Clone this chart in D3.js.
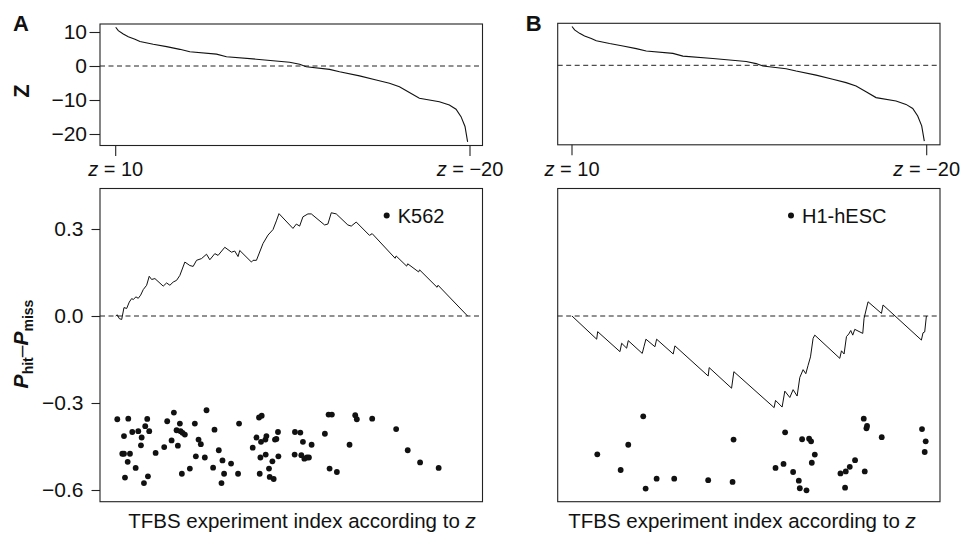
<!DOCTYPE html>
<html>
<head>
<meta charset="utf-8">
<script src="https://cdn.jsdelivr.net/npm/d3@7"></script>
<style>
  html, body { margin: 0; padding: 0; background: #fff; }
  svg { display: block; font-family: "Liberation Sans", Arial, sans-serif; }
</style>
</head>
<body>
<svg id="chart" width="963" height="533"></svg>
<script>
// ---------------- DATA ----------------
// index of TFBS experiment (ordered by z), 0..355
const indexDomain = [0, 355];

// sorted z scores (top panels, same ordering for both cell lines)
const zIndex  = [0, 2.6, 7.6, 12.6, 19.3, 24.3, 37.6, 51, 64.3, 74.3, 101, 111, 141, 174.3, 184.3, 191, 214.3, 224.3, 244.3, 261, 274.3, 284.3, 294.3, 304.3, 324.3, 334.3, 341, 346, 350, 352.6];
const zValues = [11.4, 10.4, 9.4, 8.6, 7.9, 7.2, 6.4, 5.7, 4.9, 4.2, 3.5, 2.7, 2.0, 1.1, 0.5, -0.2, -1.0, -1.7, -2.9, -4.1, -5.1, -6.1, -7.8, -9.5, -10.5, -11.5, -12.7, -14.9, -17.8, -22.3];

const zTicks = [10, 0, -10, -20];
const zTickLabels = ["10", "0", "\u221210", "\u221220"];
const zEndLabels = ["10", "\u221220"];

// running sum P_hit - P_miss, K562
const k562Index = [0, 1.6, 3.6, 6.0, 8.3, 11.0, 13.6, 16.0, 17.6, 20.3, 22.6, 25.0, 27.6, 31.0, 33.6, 36.0, 39.3, 47.6, 51.0, 54.3, 57.6, 61.0, 64.3, 69.3, 74.3, 77.6, 81.0, 86.0, 91.0, 94.3, 99.3, 102.6, 109.3, 116.0, 119.3, 122.6, 124.3, 136.0, 137.6, 141.0, 147.6, 152.6, 157.6, 161.0, 163.6, 177.6, 181.0, 184.3, 187.6, 192.6, 196.0, 209.3, 212.6, 216.0, 221.0, 232.6, 236.0, 241.0, 254.3, 257.0, 280.0, 281.0, 291.5, 292.6, 303.5, 304.5, 322.0, 323.0, 352.6];
const k562Values = [0.000, 0.004, -0.009, -0.012, 0.029, 0.026, 0.048, 0.060, 0.057, 0.066, 0.061, 0.072, 0.091, 0.106, 0.137, 0.126, 0.129, 0.103, 0.114, 0.106, 0.117, 0.123, 0.140, 0.186, 0.174, 0.171, 0.192, 0.198, 0.213, 0.194, 0.215, 0.209, 0.237, 0.220, 0.224, 0.205, 0.226, 0.186, 0.192, 0.192, 0.250, 0.279, 0.298, 0.328, 0.353, 0.302, 0.317, 0.310, 0.342, 0.352, 0.352, 0.314, 0.317, 0.356, 0.352, 0.314, 0.310, 0.324, 0.278, 0.284, 0.199, 0.207, 0.172, 0.180, 0.152, 0.159, 0.099, 0.106, 0.000];

// running sum P_hit - P_miss, H1-hESC
const h1Index = [0, 24.7, 25.7, 48, 49.7, 54.7, 56.3, 70.3, 72, 74, 83, 84.7, 101.3, 103, 136.3, 137.3, 159.7, 162, 202.3, 203.7, 210.3, 213, 218, 221.3, 225.3, 228, 231.3, 234, 236.3, 238.7, 241.3, 243, 268, 269.7, 272.3, 274.7, 277, 279, 281, 283, 291, 292.3, 296.3, 309.7, 311.3, 349.7, 351.3, 353, 354.7];
const h1Values = [0, -0.080, -0.054, -0.123, -0.094, -0.111, -0.085, -0.129, -0.106, -0.080, -0.106, -0.080, -0.131, -0.103, -0.207, -0.178, -0.249, -0.192, -0.316, -0.291, -0.314, -0.259, -0.281, -0.254, -0.276, -0.212, -0.185, -0.199, -0.170, -0.141, -0.077, -0.066, -0.146, -0.120, -0.131, -0.071, -0.062, -0.050, -0.066, -0.046, -0.060, -0.008, 0.049, 0.009, 0.038, -0.083, -0.058, -0.055, 0.000];

// hit experiments (dots), K562
const k562HitIndex = [1.6, 12.6, 8.3, 6.6, 8.3, 12.0, 9.3, 16.6, 20.0, 14.3, 22.6, 26.0, 25.3, 29.6, 31.6, 33.6, 32.3, 28.3, 40.0, 51.6, 48.6, 56.0, 58.3, 61.0, 62.3, 64.3, 65.0, 67.0, 69.3, 66.3, 74.3, 79.3, 80.3, 83.0, 85.3, 89.3, 91.0, 99.0, 97.6, 103.3, 107.0, 108.6, 106.0, 115.6, 122.6, 123.6, 137.3, 141.0, 143.6, 144.3, 145.0, 146.3, 145.6, 150.0, 150.3, 151.0, 153.6, 154.3, 157.0, 158.3, 159.6, 161.0, 162.6, 163.0, 179.6, 185.0, 179.3, 186.0, 187.6, 189.0, 191.6, 193.6, 196.3, 209.6, 213.3, 216.6, 214.3, 221.6, 234.3, 240.0, 241.6, 257.0, 281.0, 292.6, 305.0, 323.6];
const k562HitValues = [-0.356, -0.354, -0.414, -0.475, -0.475, -0.503, -0.557, -0.400, -0.524, -0.475, -0.397, -0.419, -0.446, -0.380, -0.355, -0.397, -0.553, -0.576, -0.472, -0.363, -0.452, -0.429, -0.333, -0.394, -0.447, -0.371, -0.397, -0.403, -0.409, -0.544, -0.526, -0.371, -0.484, -0.426, -0.442, -0.488, -0.325, -0.392, -0.523, -0.463, -0.498, -0.544, -0.576, -0.509, -0.544, -0.371, -0.454, -0.419, -0.350, -0.544, -0.488, -0.344, -0.434, -0.426, -0.478, -0.414, -0.526, -0.555, -0.501, -0.562, -0.426, -0.424, -0.400, -0.484, -0.400, -0.402, -0.478, -0.480, -0.434, -0.492, -0.488, -0.488, -0.444, -0.406, -0.340, -0.340, -0.526, -0.538, -0.444, -0.342, -0.356, -0.354, -0.390, -0.463, -0.505, -0.524];

// hit experiments (dots), H1-hESC
const h1HitIndex = [25.3, 48.7, 56.3, 71.3, 73.7, 84.7, 102.3, 136.3, 160.7, 161.7, 203.7, 211.7, 213.3, 221.3, 227, 228, 230.3, 234.7, 237.3, 239.3, 240, 243, 268.7, 273.3, 274, 278, 283.3, 292, 293, 294.7, 295.3, 310, 350.3, 353, 354];
const h1HitValues = [-0.477, -0.531, -0.444, -0.346, -0.595, -0.561, -0.561, -0.566, -0.572, -0.426, -0.524, -0.510, -0.401, -0.538, -0.568, -0.594, -0.425, -0.601, -0.423, -0.432, -0.506, -0.478, -0.543, -0.592, -0.536, -0.520, -0.497, -0.354, -0.536, -0.387, -0.379, -0.418, -0.390, -0.469, -0.432];

const esTicks = [0.3, 0.0, -0.3, -0.6];
const esTickLabels = ["0.3", "0.0", "\u22120.3", "\u22120.6"];

const cellLines = ["K562", "H1-hESC"];
const panelLetters = ["A", "B"];
const xTitle = "TFBS experiment index according to ";

// ---------------- DRAW ----------------
const svg = d3.select("#chart");
const FONT = 20;
const TICKFONT = 21;
const ink = "#111";

const panels = [
  { letter: panelLetters[0], legend: cellLines[0], xr: [115.7, 470], box: [100, 482.5],
    lineI: k562Index, lineV: k562Values, hitI: k562HitIndex, hitV: k562HitValues,
    topShift: 0, axes: true, legendX: 386.7, titleX: 302 },
  { letter: panelLetters[1], legend: cellLines[1], xr: [572, 926.7], box: [557.7, 940],
    lineI: h1Index, lineV: h1Values, hitI: h1HitIndex, hitV: h1HitValues,
    topShift: -0.7, axes: false, legendX: 791, titleX: 742 }
];

const topBox = [24, 145.5];
const botBox = [188.5, 501.7];

panels.forEach(p => {
  const g = svg.append("g");
  const x = d3.scaleLinear().domain(indexDomain).range(p.xr);
  const yZ = d3.scaleLinear().domain([-20, 10]).range([134 + p.topShift, 32 + p.topShift]);
  const yE = d3.scaleLinear().domain([-0.6, 0.3]).range([490, 229]);

  // ---- top panel ----
  const tb = [topBox[0] + p.topShift, topBox[1] + p.topShift];
  g.append("rect").attr("x", p.box[0]).attr("y", tb[0])
    .attr("width", p.box[1] - p.box[0]).attr("height", tb[1] - tb[0])
    .attr("fill", "none").attr("stroke", "#222").attr("stroke-width", 1.1);
  g.append("line").attr("x1", p.box[0]).attr("x2", p.box[1])
    .attr("y1", yZ(0)).attr("y2", yZ(0))
    .attr("stroke", "#222").attr("stroke-dasharray", "5,3.5");
  const zData = zIndex.map((d, i) => [d, zValues[i]]);
  g.append("path").datum(zData)
    .attr("d", d3.line().x(d => x(d[0])).y(d => yZ(d[1])))
    .attr("fill", "none").attr("stroke", ink).attr("stroke-width", 1.1);

  // x end ticks of top panel
  const ends = [indexDomain[0], indexDomain[1]];
  ends.forEach((e, i) => {
    g.append("line").attr("x1", x(e)).attr("x2", x(e))
      .attr("y1", tb[1]).attr("y2", tb[1] + 10.5)
      .attr("stroke", "#222").attr("stroke-width", 1.1);
    const t = g.append("text").attr("x", x(e)).attr("y", 175.5)
      .attr("text-anchor", "middle").attr("font-size", FONT).attr("fill", ink);
    t.append("tspan").attr("font-style", "italic").text("z");
    t.append("tspan").text(" = " + zEndLabels[i]);
  });

  if (p.axes) {
    const ax = d3.axisLeft(yZ).tickValues(zTicks).tickSize(10.5).tickPadding(2.5)
      .tickFormat((d, i) => zTickLabels[i]);
    const ag = g.append("g").attr("transform", `translate(${p.box[0]},0)`).call(ax);
    ag.select(".domain").remove();
    ag.selectAll("line").attr("stroke", "#222").attr("stroke-width", 1.1);
    ag.selectAll("text").attr("font-size", TICKFONT).attr("fill", ink)
      .attr("font-family", '"Liberation Sans", Arial, sans-serif');
  }

  // panel letter
  g.append("text").attr("x", p.box[0] - (p.axes ? 87 : 32)).attr("y", 30.5)
    .attr("font-size", 22).attr("font-weight", "bold").attr("fill", ink).text(p.letter);

  // ---- bottom panel ----
  g.append("rect").attr("x", p.box[0]).attr("y", botBox[0])
    .attr("width", p.box[1] - p.box[0]).attr("height", botBox[1] - botBox[0])
    .attr("fill", "none").attr("stroke", "#222").attr("stroke-width", 1.1);
  g.append("line").attr("x1", p.box[0]).attr("x2", p.box[1])
    .attr("y1", yE(0)).attr("y2", yE(0))
    .attr("stroke", "#222").attr("stroke-dasharray", "5,3.5");
  const lData = p.lineI.map((d, i) => [d, p.lineV[i]]);
  g.append("path").datum(lData)
    .attr("d", d3.line().x(d => x(d[0])).y(d => yE(d[1])))
    .attr("fill", "none").attr("stroke", ink).attr("stroke-width", 1);
  const hData = p.hitI.map((d, i) => [d, p.hitV[i]]);
  g.selectAll("circle.hit").data(hData).enter().append("circle")
    .attr("class", "hit").attr("cx", d => x(d[0])).attr("cy", d => yE(d[1]))
    .attr("r", 2.9).attr("fill", ink);

  if (p.axes) {
    const ax = d3.axisLeft(yE).tickValues(esTicks).tickSize(8.5).tickPadding(8)
      .tickFormat((d, i) => esTickLabels[i]);
    const ag = g.append("g").attr("transform", `translate(${p.box[0]},0)`).call(ax);
    ag.select(".domain").remove();
    ag.selectAll("line").attr("stroke", "#222").attr("stroke-width", 1.1);
    ag.selectAll("text").attr("font-size", TICKFONT).attr("fill", ink)
      .attr("font-family", '"Liberation Sans", Arial, sans-serif');
  }

  // legend
  g.append("circle").attr("cx", p.legendX).attr("cy", 215.5).attr("r", 3).attr("fill", ink);
  g.append("text").attr("x", p.legendX + 11).attr("y", 222.5)
    .attr("font-size", FONT).attr("fill", ink).text(p.legend);

  // x title
  const xt = g.append("text").attr("x", p.titleX).attr("y", 528)
    .attr("text-anchor", "middle").attr("font-size", 20.5).attr("fill", ink);
  xt.append("tspan").text(xTitle);
  xt.append("tspan").attr("font-style", "italic").text("z");
});

// y titles (panel A)
svg.append("text").attr("transform", "translate(29,91) rotate(-90)")
  .attr("text-anchor", "middle").attr("font-size", 22).attr("font-weight", "bold")
  .attr("fill", ink).text("Z");

const yt = svg.append("text").attr("transform", "translate(28,344) rotate(-90)")
  .attr("text-anchor", "middle").attr("font-weight", "bold").attr("fill", ink);
yt.append("tspan").attr("font-size", 21).attr("font-style", "italic").text("P");
yt.append("tspan").attr("font-size", 14).attr("dy", 5).text("hit");
yt.append("tspan").attr("font-size", 21).attr("dy", -5).attr("font-weight", "normal").text("\u2013");
yt.append("tspan").attr("font-size", 21).attr("font-style", "italic").text("P");
yt.append("tspan").attr("font-size", 14).attr("dy", 5).text("miss");
</script>
</body>
</html>
